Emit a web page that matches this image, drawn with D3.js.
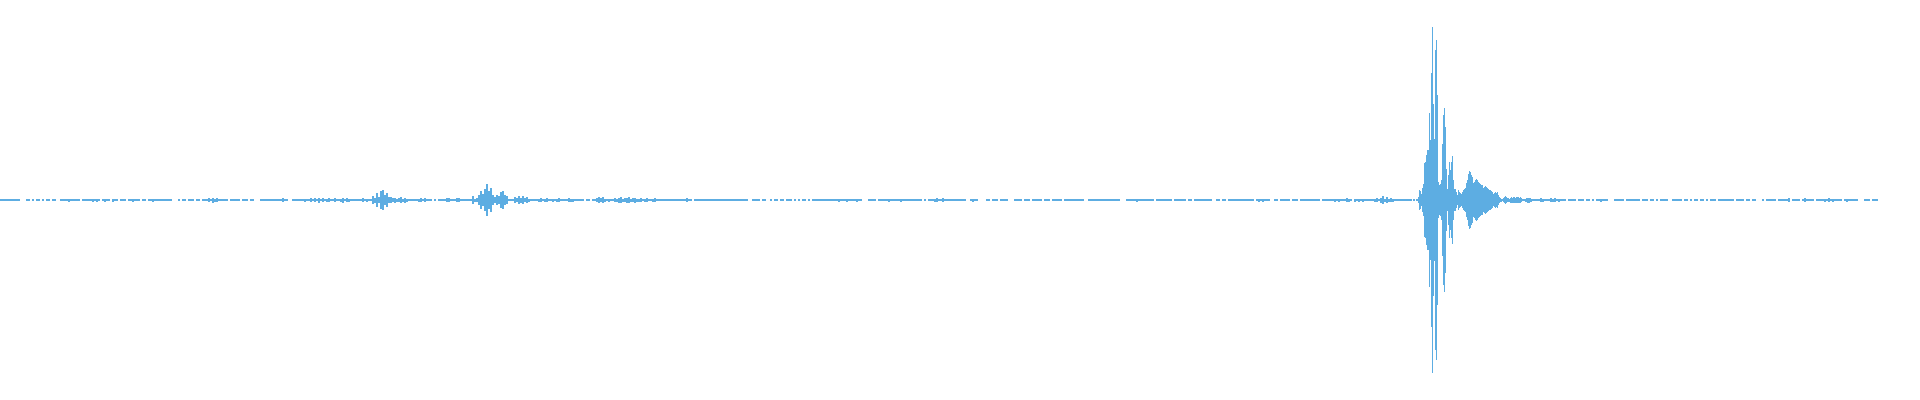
<!DOCTYPE html>
<html>
<head>
<meta charset="utf-8">
<script src="https://cdn.jsdelivr.net/npm/d3@7"></script>
<style>
  html, body { margin: 0; padding: 0; background: #fff; }
  svg { display: block; }
</style>
</head>
<body>
<svg id="chart" width="1920" height="400"></svg>
<script>
// Waveform amplitude (half-height, px units of a ±200 range).
// Section before the main event: samples 0..1408, one value per 2 samples.
const ampBeforeStart = 0, ampBeforeStep = 2;
const ampBefore = [
  .6,.6,.6,.6,.6,.6,.6,.6,.6,.6,
  0,0,0,.6,.6,0,.6,0,.6,.6,
  0,.6,0,.6,.6,0,.6,.6,0,0,
  .6,.6,.6,.6,1.5,.6,.6,.6,.6,.6,
  0,.6,.6,.6,.6,.6,1.5,.6,1.5,.6,
  0,.6,1.5,.6,.6,0,1.5,.6,.6,0,
  .6,.6,.6,0,.6,.6,1.5,.6,.6,.6,
  0,.6,.6,0,.6,.6,1.5,.6,.6,.6,
  .6,.6,.6,.6,.6,.6,0,0,0,.6,
  0,.6,.6,0,.6,.6,.6,0,.6,.6,
  0,.6,.6,.6,2,1,2.5,1.5,2,1,
  .6,.6,1,.6,0,.6,.6,1,.6,.6,
  0,.6,.6,.6,0,.6,.6,0,0,0,
  .6,.6,.6,.6,1,.6,.6,.6,.6,1,
  .6,2,.6,.6,0,0,.6,.6,.6,.6,
  1,.6,1.5,.6,1,2,1,2,1,2.5,
  1,2,1,1.5,2,1,1,2,1,.6,
  1.5,2.5,1,2,1.5,.6,.6,.6,.6,.6,
  .6,2,1,1.5,.6,1,4,2.5,6.7,3,
  9.3,10,5,7,3,3.3,2,2.5,1.5,2,
  3,1.5,2.5,1.5,.6,.6,.6,1,.6,1.5,
  2,1,2,1,.6,.6,0,.6,0,.6,
  .6,.6,.6,2,2,.6,.6,1,2,2,
  .6,.6,1,.6,.6,1,4,1.5,2,5,
  8.7,6,11,16,9,12,5,3,5.3,4,
  8,9,5,4.3,.6,1,.6,3,2,4,
  2.5,4,2,3,1.5,.6,.6,.6,.6,1.5,
  2,1,1.5,2,1,1,1.5,.6,1.5,2,
  .6,.6,.6,1,2,1.5,1.5,.6,.6,.6,
  .6,.6,0,.6,.6,0,.6,.6,2,3,
  2,3,1.5,1,1.5,1,.6,2,1.5,2.5,
  3,1.5,2,2.5,3,1.5,2,2.5,1.5,1.5,
  2,1,1.5,2,1,.6,1.5,2,1,.6,
  .6,.6,.6,.6,.6,.6,.6,.6,.6,.6,
  .6,.6,1,2,1,.6,0,.6,1,.6,
  .6,1,.6,.6,.6,1,.6,.6,.6,1,
  .6,.6,.6,.6,1,.6,.6,.6,1,.6,
  .6,.6,1,.6,0,0,.6,1,.6,.6,
  0,.6,.6,0,0,.6,0,.6,.6,0,
  .6,.6,0,.6,.6,.6,0,.6,0,.6,
  0,.6,.6,0,.6,0,.6,.6,.6,1,
  .6,.6,.6,.6,1,.6,.6,1,.6,1.5,
  .6,1,.6,1.5,1,.6,1,.6,1.5,1,
  .6,0,0,0,.6,.6,.6,.6,0,.6,
  .6,1,.6,.6,1.5,.6,.6,1,.6,.6,
  1.5,.6,1,.6,.6,1,.6,.6,1,.6,
  .6,0,.6,0,.6,.6,1,1.5,2,1,
  1,2,1,.6,1,.6,.6,1,.6,.6,
  1,.6,.6,0,0,1,1.5,1,.6,0,
  0,0,0,.6,.6,0,.6,.6,.6,0,
  .6,.6,.6,.6,0,0,0,.6,.6,.6,
  .6,0,.6,1,.6,0,.6,1,.6,.6,
  1,0,.6,.6,.6,0,.6,.6,1,.6,
  .6,0,.6,.6,.6,.6,1,.6,.6,.6,
  .6,.6,0,0,.6,.6,.6,1,.6,.6,
  .6,.6,1,.6,.6,.6,1,.6,.6,.6,
  0,0,0,.6,.6,1,.6,.6,1.5,.6,
  .6,1,.6,.6,1,.6,.6,0,.6,.6,
  .6,.6,.6,.6,.6,.6,0,.6,.6,.6,
  .6,.6,.6,0,.6,.6,0,1,.6,.6,
  .6,1,.6,.6,.6,.6,0,0,.6,.6,
  0,.6,.6,0,.6,.6,.6,.6,.6,1,
  .6,.6,.6,.6,.6,.6,.6,0,1,1.5,
  1,1.5,1,.6,.6,0,0,.6,.6,0,
  .6,.6,.6,.6,.6,0,.6,.6,.6,0,
  .6,.6,.6,.6,.6,1,.6,.6,.6,.6,
  0,.6,.6,.6,1,.6,1,1.5,1,1.5,
  1,.6,1,2,1.5,1,0,1.5,1,1.5,
  1,1.5,1,.6,.6,.6,.6,1.5,2,1,
  2.5,3.7,1.5,3,1.5,2,1.5,.6,.6,.6,
  .6,.6,.6,.6,.6
];

// Main event: samples 1410..1539, one value per sample.
const ampEventStart = 1410, ampEventStep = 1;
const ampEvent = [
  .6,.6,0,.6,.6,0,.6,.6,3,10,
  9,6,12,16,37,38,45,50,50,87,
  60,127,173,96,61,150,160,105,18,15,
  16,20,56,85,92,73,31,11,25,38,
  30,38,44,20,11,11,8,5,10,8,
  7,6,8,10,11,12,17,20,26,29,
  28,25,23,17,18,20,21,20,18,17,
  16,15,15,12,13,14,13,12,11,10,
  10,9,8,6,7,8,7,8,5,3,
  2,1.5,1,2,3,4,3,2,2,1.5,
  2.5,3,2.5,2.7,2.7,2.5,2.7,3,2.7,2.5,
  2.7,2,1,1,.6,1.5,2,2.5,2.5,2.5,
  2,1.5,.6,.6,.6,.6,.6,.6,.6,.6
];

// Tail after the event: samples 1540..1876, one value per 2 samples.
const ampAfterStart = 1540, ampAfterStep = 2;
const ampAfter = [
  2,1.5,.6,.6,.6,2,1.5,2,1,1.5,
  1,.6,.6,0,.6,.6,.6,.6,0,.6,
  .6,.6,0,.6,.6,0,.6,0,.6,.6,
  1.5,.6,.6,.6,0,0,0,.6,.6,.6,
  .6,.6,0,.6,.6,.6,.6,.6,.6,.6,
  0,.6,.6,1,0,.6,.6,0,.6,0,
  .6,.6,.6,.6,0,0,.6,.6,.6,.6,
  .6,0,.6,.6,0,.6,0,.6,.6,0,
  .6,.6,0,.6,0,.6,.6,.6,0,.6,
  .6,.6,.6,.6,.6,.6,.6,0,.6,.6,
  .6,.6,0,.6,.6,0,.6,.6,0,0,
  0,.6,0,.6,.6,.6,.6,.6,0,.6,
  .6,.6,.6,.6,2,0,.6,.6,.6,.6,
  0,.6,2,.6,.6,.6,.6,0,.6,.6,
  .6,.6,1.5,.6,2,.6,1.5,.6,.6,.6,
  .6,0,.6,1.5,.6,.6,.6,.6,.6,0,
  0,0,.6,.6,.6,0,.6,.6,.6
];

const totalSamples = 1878;
const waveColor = "#5dade2";

function section(values, start, step) {
  return values.map((v, i) => ({ t: start + i * step, w: step, v }));
}
const data = [
  ...section(ampBefore, ampBeforeStart, ampBeforeStep),
  ...section(ampEvent, ampEventStart, ampEventStep),
  ...section(ampAfter, ampAfterStart, ampAfterStep)
].filter(d => d.v > 0);

const svg = d3.select("#chart");
const width = 1920, height = 400;

const x = d3.scaleLinear().domain([0, totalSamples]).range([0, totalSamples]);
const y = d3.scaleLinear().domain([-200, 200]).range([height, 0]);

svg.append("rect").attr("width", width).attr("height", height).attr("fill", "#fff");

svg.append("g")
  .attr("fill", waveColor)
  .attr("shape-rendering", "crispEdges")
  .selectAll("rect")
  .data(data)
  .join("rect")
  .attr("x", d => x(d.t))
  .attr("width", d => x(d.t + d.w) - x(d.t))
  .attr("y", d => y(d.v))
  .attr("height", d => Math.max(1, y(-d.v) - y(d.v)));
</script>
</body>
</html>
